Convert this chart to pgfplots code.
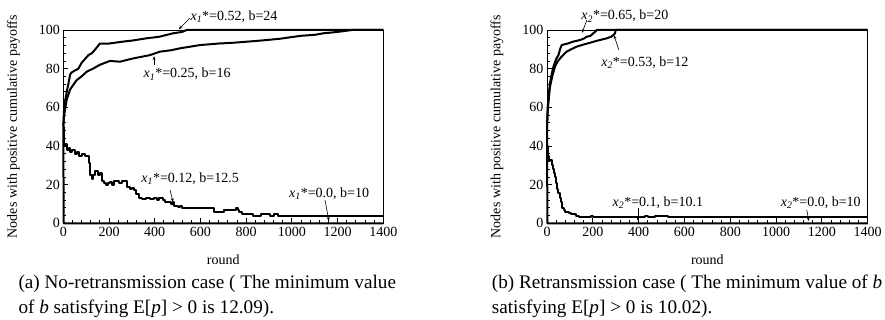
\documentclass[border=0pt]{standalone}
\usepackage{fontspec}
\setmainfont{Liberation Serif}
\usepackage{pgfplots}
\pgfplotsset{compat=1.18}
\usetikzlibrary{arrows.meta}
\newcommand{\xs}[1]{\textit{x}\textsubscript{\textit{#1}}}
\pgfplotsset{
 myax/.style={
  scale only axis, height=193.3pt,
  xmin=0,xmax=1400,ymin=0,ymax=100,
  xtick={0,200,...,1400}, ytick={0,20,...,100},
  minor x tick num=4, minor y tick num=4,
  tick align=inside, tick pos=left,
  major tick length=5pt, minor tick length=3pt,
  axis line style={line width=0.8pt},
  every tick/.style={black, line width=0.8pt},
  /pgf/number format/assume math mode=true,
  /pgf/number format/1000 sep={},
  tick label style={font=\fontsize{14}{16}\selectfont},
  xlabel={round}, ylabel={Nodes with positive cumulative payoffs},
  every axis x label/.style={at={(axis description cs:0.5,-0.186)},anchor=center,font=\fontsize{14}{16}\selectfont},
  every axis y label/.style={at={(axis description cs:-0.156,0.5)},rotate=90,anchor=center,font=\fontsize{14}{16}\selectfont},
  clip=false, no markers,
 },
}
\tikzset{
 dat/.style={black, line width=2pt, line join=round},
 ann/.style={font=\fontsize{14}{16}\selectfont, inner sep=0pt},
 arr/.style={-{Stealth[length=4pt,width=3pt]}, line width=0.6pt},
}
\begin{document}
\begin{tikzpicture}
\path[use as bounding box] (0,0) rectangle (885pt,320pt);
% ---------------- left ----------------
\begin{axis}[myax, width=320pt, at={(63.3pt,96.7pt)}, anchor=south west]
\addplot[dat] coordinates {(0,50) (3,58) (8,63) (15,68) (22,72) (30,77) (36,78) (50,79) (66,80) (80,83) (95,85) (110,87) (125,88) (140,90) (160,93) (200,93) (262,94) (300,94.5) (364,95.7) (420,96.5) (481,98.3) (520,99) (540,100) (1400,100)};
\addplot[dat] coordinates {(0,50) (3,55) (7,58.5) (15,64) (29,69) (40,71) (58,74) (80,76) (102,78.4) (130,80) (160,82) (204,84) (248,83.6) (306,85.3) (379,87) (423,88.8) (470,89.5) (510,90.5) (598,92.2) (680,93) (743,93.4) (830,94.2) (889,94.8) (950,95.5) (991,96.2) (1040,97) (1100,97.5) (1138,98.3) (1200,99) (1264,100) (1400,100)};
\addplot[dat, const plot] coordinates {(0,50) (2,45) (4,40) (10,41) (15,38) (25,39) (30,37) (40,38) (50,36) (60,37) (70,35) (80,36) (95,35) (105,35) (112,31) (118,25) (125,23) (132,25) (140,27) (150,25) (160,26) (168,22) (176,21) (185,20) (195,21) (205,21.5) (212,20) (220,22) (235,22) (245,21) (255,22) (270,22) (278,19) (290,18) (300,18.5) (310,17) (320,15) (330,13) (345,12.5) (360,13) (380,12.5) (395,13) (410,12) (420,13) (435,12) (445,11) (460,11) (470,10) (480,11) (485,9) (500,8.5) (510,9) (520,8) (650,8) (660,6) (700,6) (705,7) (750,7) (755,8) (765,7) (770,6) (780,5) (820,5) (830,4) (860,4) (865,5) (900,5) (905,4) (915,4) (920,5) (935,5) (940,4) (1400,4)};
\addplot[dat] coordinates {(0,50) (1,20) (2,0) (1400,0)};
\node[ann] at (axis cs:747,107) {\xs{1}*=0.52, b=24};
\draw[arr] (axis cs:554,106.2) -- (axis cs:505,100.3);
\node[ann] at (axis cs:542,77.2) {\xs{1}*=0.25, b=16};
\draw[arr] (axis cs:397,81.9) -- (axis cs:397,86.5);
\node[ann] at (axis cs:555,22.9) {\xs{1}*=0.12, b=12.5};
\draw[arr] (axis cs:467,17.2) -- (axis cs:480,11);
\node[ann] at (axis cs:1163,15.2) {\xs{1}*=0.0, b=10};
\draw[arr] (axis cs:1145,12) -- (axis cs:1162,1.2);
\end{axis}
% ---------------- right ----------------
\begin{axis}[myax, width=320.7pt, at={(547pt,96.7pt)}, anchor=south west]
\addplot[dat] coordinates {(0,50) (3,60) (8,67) (13,72.4) (20,77) (28,81) (40,85) (50,87) (57,90) (64,92.2) (90,93) (115,94) (144,94.8) (160,95.5) (173,96.5) (190,97) (202,98.3) (210,99) (217,100) (1400,100)};
\addplot[dat] coordinates {(0,50) (3,58) (8,65) (13,70.6) (25,77) (35,81) (45,83.5) (57,85.3) (70,87) (86,88.8) (105,90) (130,91.4) (160,92.5) (188,93.4) (220,94.5) (261,95.7) (280,96.5) (290,97.4) (297,98.3) (300,100) (1400,100)};
\addplot[dat, const plot] coordinates {(0,50) (2,40) (5,35) (10,32) (15,33) (20,30) (25,28) (30,26) (35,24) (40,21) (45,18) (50,15.6) (55,13) (60,11) (66,8) (72,7) (80,6) (86,6) (95,5.5) (105,5) (116,4.8) (125,4) (140,3.4) (150,3) (185,3) (190,4) (200,3) (425,3) (428,4) (442,3) (468,3) (472,4) (523,4) (528,3) (1400,3)};
\addplot[dat] coordinates {(0,50) (1,20) (2,0) (1400,0)};
\node[ann] at (axis cs:340,107.2) {\xs{2}*=0.65, b=20};
\draw[arr] (axis cs:174,105.2) -- (axis cs:153,98.5);
\node[ann] at (axis cs:427,82.9) {\xs{2}*=0.53, b=12};
\draw[arr] (axis cs:314,89.6) -- (axis cs:292,97.3);
\node[ann] at (axis cs:484,10.5) {\xs{2}*=0.1, b=10.1};
\draw[arr] (axis cs:397,7.9) -- (axis cs:397,1.2);
\node[ann] at (axis cs:1195,10.5) {\xs{2}*=0.0, b=10};
\draw[arr] (axis cs:1134,6.9) -- (axis cs:1143,1.2);
\end{axis}
% ---------------- captions ----------------
\node[anchor=base west, inner sep=0pt, font=\fontsize{19.2}{24}\selectfont] at (18.3pt,31pt) {(a) No-retransmission case ( The minimum value};
\node[anchor=base west, inner sep=0pt, font=\fontsize{19.2}{24}\selectfont] at (18.3pt,6.7pt) {of \textit{b} satisfying E[\textit{p}] > 0 is 12.09).};
\node[anchor=base west, inner sep=0pt, font=\fontsize{19.2}{24}\selectfont] at (491.7pt,31pt) {(b) Retransmission case ( The minimum value of \textit{b}};
\node[anchor=base west, inner sep=0pt, font=\fontsize{19.2}{24}\selectfont] at (491.7pt,6.7pt) {satisfying E[\textit{p}] > 0 is 10.02).};
\end{tikzpicture}
\end{document}
